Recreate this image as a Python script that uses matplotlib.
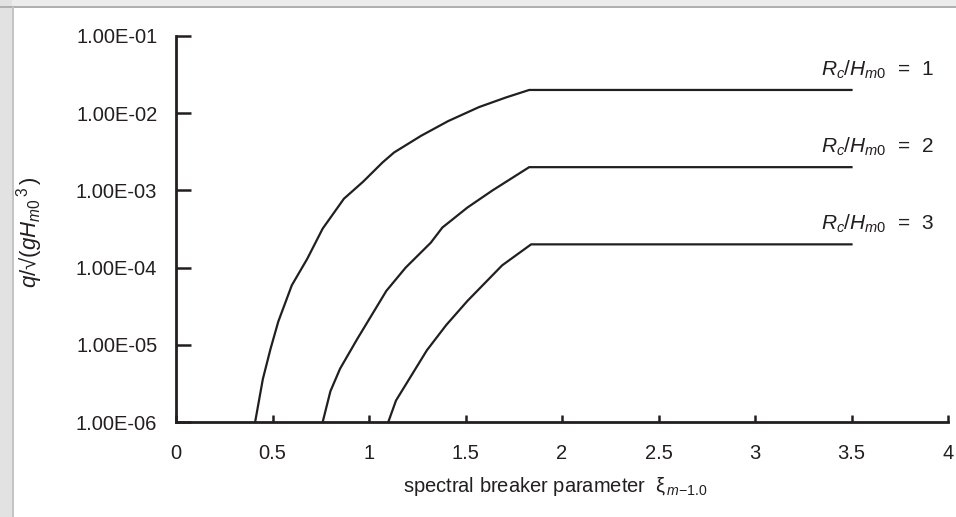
import numpy as np
import matplotlib
matplotlib.use('Agg')
import matplotlib.pyplot as plt
from matplotlib.patches import Rectangle

plt.rcParams['font.family'] = ['Liberation Sans', 'DejaVu Sans']
plt.rcParams['mathtext.fontset'] = 'custom'
plt.rcParams['mathtext.rm'] = 'Liberation Sans'
plt.rcParams['mathtext.it'] = 'Liberation Sans:italic'

# data
x_rc1 = [0.41, 0.45, 0.49, 0.53, 0.60, 0.68, 0.76, 0.87, 0.97, 1.07, 1.13, 1.27, 1.41, 1.57, 1.71, 1.83, 3.50]
q_rc1 = [1.0e-6, 3.6e-6, 8.9e-6, 2.0e-5, 5.9e-5, 1.3e-4, 3.2e-4, 7.8e-4, 1.3e-3, 2.3e-3, 3.1e-3, 5.1e-3,
         7.9e-3, 1.2e-2, 1.6e-2, 2.0e-2, 2.0e-2]
x_rc2 = [0.76, 0.80, 0.85, 0.94, 1.09, 1.19, 1.32, 1.38, 1.51, 1.64, 1.83, 3.50]
q_rc2 = [1.0e-6, 2.5e-6, 4.9e-6, 1.2e-5, 5.0e-5, 1.0e-4, 2.1e-4, 3.3e-4, 6.0e-4, 1.0e-3, 2.0e-3, 2.0e-3]
x_rc3 = [1.10, 1.14, 1.30, 1.40, 1.51, 1.69, 1.84, 3.50]
q_rc3 = [1.0e-6, 1.9e-6, 8.5e-6, 1.8e-5, 3.7e-5, 1.07e-4, 2.0e-4, 2.0e-4]
curve_labels = ['1', '2', '3']

x_ticks = [0, 0.5, 1, 1.5, 2, 2.5, 3, 3.5, 4]
x_ticklabels = ['0', '0.5', '1', '1.5', '2', '2.5', '3', '3.5', '4']
y_ticks = [1e-6, 1e-5, 1e-4, 1e-3, 1e-2, 1e-1]
y_ticklabels = ['1.00E-06', '1.00E-05', '1.00E-04', '1.00E-03', '1.00E-02', '1.00E-01']

ink = '#231f20'
fig = plt.figure(figsize=(9.56, 5.17), dpi=100)
fig.patch.set_facecolor('white')

# grey frame at top and left
fig.patches.append(Rectangle((0, 1 - 7/517), 1, 7/517, transform=fig.transFigure,
                             facecolor='#ececec', edgecolor='none', zorder=-5))
fig.patches.append(Rectangle((0, 1 - 8/517), 1, 1.5/517, transform=fig.transFigure,
                             facecolor='#b0b0b0', edgecolor='none', zorder=-4))
fig.patches.append(Rectangle((0, 0), 12/956, 1, transform=fig.transFigure,
                             facecolor='#e2e2e2', edgecolor='none', zorder=-5))
fig.patches.append(Rectangle((12/956, 0), 1.5/956, 1 - 7/517, transform=fig.transFigure,
                             facecolor='#c4c4c4', edgecolor='none', zorder=-4))

ax = fig.add_axes([176/956, 1 - 422/517, (948 - 176)/956, (422 - 36)/517])
ax.set_facecolor('none')

for xs, qs in [(x_rc1, q_rc1), (x_rc2, q_rc2), (x_rc3, q_rc3)]:
    ax.plot(xs, qs, color=ink, lw=1.6, solid_joinstyle='miter', clip_on=False)

ax.set_yscale('log')
ax.set_xlim(0, 4)
ax.set_ylim(1e-6, 1e-1)
ax.set_xticks(x_ticks)
ax.set_xticklabels(x_ticklabels)
ax.set_yticks(y_ticks)
ax.set_yticklabels(y_ticklabels)
ax.yaxis.set_minor_locator(matplotlib.ticker.NullLocator())

for s in ['top', 'right']:
    ax.spines[s].set_visible(False)
for s in ['left', 'bottom']:
    ax.spines[s].set_linewidth(2.0)
    ax.spines[s].set_color(ink)

ax.tick_params(axis='y', direction='in', length=11, width=1.8, color=ink, pad=13.5,
               labelsize=14.5, labelcolor=ink)
ax.tick_params(axis='x', direction='in', length=5, width=1.8, color=ink, pad=16,
               labelsize=14.5, labelcolor=ink)

# curve labels
for lbl, qs in zip(curve_labels, [q_rc1, q_rc2, q_rc3]):
    ax.annotate(r'$R_c/H_{m0}$  =  ' + lbl, xy=(3.5, qs[-1]), xytext=(59, 14.5),
                textcoords='offset points', ha='right', va='center', fontsize=15,
                color=ink, annotation_clip=False)

fig.text(555/956, 1 - 487/517, r'spectral breaker parameter  $\mathrm{\xi}_{\,m\mathrm{-1.0}}$',
         ha='center', va='center', fontsize=14.5, color=ink)
fig.text(30/956, 1 - 232/517, r'$q/$√$(gH_{m0}{}^{\,3}\,)$', rotation=90,
         ha='center', va='center', fontsize=16, color=ink)

fig.savefig('out.png', dpi=100)
